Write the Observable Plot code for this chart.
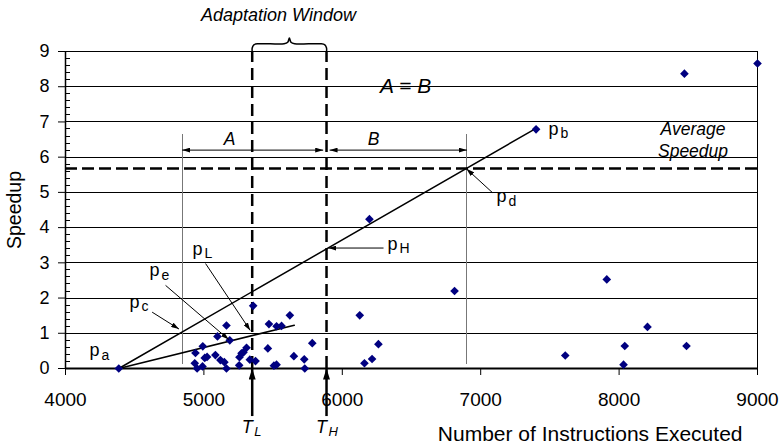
<!DOCTYPE html>
<html>
<head>
<meta charset="utf-8">
<script src="https://cdn.jsdelivr.net/npm/d3@7"></script>
<script src="https://cdn.jsdelivr.net/npm/@observablehq/plot@0.6"></script>
<style>
  body { margin: 0; background: #fff; }
  #chart svg { display: block; }
  g[aria-label^="x-axis"], g[aria-label^="x-axis"] text { font-size: 19px; }
  g[aria-label^="y-axis"], g[aria-label^="y-axis"] text { font-size: 18px; }
</style>
</head>
<body>
<div id="chart"></div>
<script>
// ---- axis ticks ----
const xTicks = [4000, 5000, 6000, 7000, 8000, 9000];
const yTicks = [0, 1, 2, 3, 4, 5, 6, 7, 8, 9];

// ---- measured samples (instructions executed, speedup) ----
const instructions = [4385, 4939, 4934, 4951, 4990, 4992, 5006, 5023, 5083, 5098, 5119, 5148, 5163, 5163, 5187,
  5255, 5257, 5272, 5286, 5308, 5332, 5356, 5373, 5462, 5470, 5506, 5525, 5525, 5561, 5621, 5650, 5725, 5729, 5783,
  6126, 6160, 6196, 6215, 6261, 6811, 7400, 7611, 7911, 8032, 8041, 8205, 8472, 8487, 9000];
const speedup = [0, 0.44, 0.15, 0, 0.06, 0.63, 0.30, 0.33, 0.38, 0.91, 0.24, 0.18, 1.22, 0, 0.80,
  0.09, 0.32, 0.43, 0.46, 0.59, 0.25, 1.78, 0.21, 0.57, 1.26, 0.08, 0.11, 1.20, 1.21, 1.51, 0.35, 0.26, 0, 0.72,
  1.51, 0.15, 4.24, 0.27, 0.69, 2.20, 6.79, 0.37, 2.53, 0.11, 0.64, 1.18, 8.37, 0.64, 8.66];

// ---- construction values ----
const pA = [4385, 0];
const pB = [7400, 6.82];
const lowLineEnd = [5653, 1.23];
const TL = 5349, TH = 5886;
const avgSpeedup = 5.68;
const refLeft = 4843, refRight = 6900;
const refTop = 6.64, refBottom = 0.11;
const spanY = 6.2;
const spans = [{name: "A", x1: refLeft, x2: 5862}, {name: "B", x1: 5908, x2: refRight}];
const spanLabels = [{text: "A", x: 5185, y: 6.51}, {text: "B", x: 6226, y: 6.51}];

// labels of points on the construction lines
const boxedP = [
  {sub: "c", x: 4462, y: 1.88},
  {sub: "e", x: 4607, y: 2.78},
  {sub: "L", x: 4918, y: 3.39},
  {sub: "H", x: 6327, y: 3.53},
  {sub: "d", x: 7114, y: 4.88}
];
const plainP = [
  {sub: "a", x: 4173, y: 0.505},
  {sub: "b", x: 7490, y: 6.80}
];
const pointers = [
  {x1: 4626, y1: 1.60, x2: 4820, y2: 1.12},
  {x1: 4723, y1: 2.36, x2: 5180, y2: 0.82},
  {x1: 5012, y1: 2.98, x2: 5335, y2: 1.08},
  {x1: 6298, y1: 3.42, x2: 5900, y2: 3.42},
  {x1: 7083, y1: 5.00, x2: 6897, y2: 5.67}
];
const eqLabel = [{text: "A = B", x: 6457, y: 8}];
const avgLabel = [{text: "Average\nSpeedup", x: 8534, y: 6.52}];
const thresholds = [{x: TL, sub: "L"}, {x: TH, sub: "H"}];
const axisTitles = [
  {text: "Speedup", x: 4000, y: 4.5},
  {text: "Number of Instructions Executed", x: 9000, y: 0}
];
const mid = (TL + TH) / 2;
const brace = [[TL, 9], [TL, 9.1], [TL + 12, 9.19], [TL + 45, 9.22], [mid - 38, 9.22], [mid - 12, 9.26], [mid, 9.38],
  [mid + 12, 9.26], [mid + 38, 9.22], [TH - 45, 9.22], [TH - 12, 9.19], [TH, 9.1], [TH, 9]];

const points = instructions.map((x, i) => ({x, y: speedup[i]}));
const minorY = d3.range(0, 45).map(i => i / 5).filter(v => !Number.isInteger(v) && v < 9);

const FONT = "'Liberation Sans', Arial, Helvetica, sans-serif";

function head(len, wid) {
  return () => {
    const ns = "http://www.w3.org/2000/svg";
    const m = document.createElementNS(ns, "marker");
    m.setAttribute("viewBox", `${-len} ${-wid / 2} ${len} ${wid}`);
    m.setAttribute("markerWidth", len);
    m.setAttribute("markerHeight", wid);
    m.setAttribute("markerUnits", "userSpaceOnUse");
    m.setAttribute("orient", "auto-start-reverse");
    m.setAttribute("refX", 0);
    m.setAttribute("refY", 0);
    m.setAttribute("fill", "black");
    m.setAttribute("stroke", "none");
    const p = document.createElementNS(ns, "path");
    p.setAttribute("d", `M0,0L${-len},${-wid / 2}L${-len},${wid / 2}Z`);
    m.appendChild(p);
    return m;
  };
}

const crisp = {shapeRendering: "crispEdges"};

const chart = Plot.plot({
  width: 784,
  height: 446,
  marginLeft: 65,
  marginRight: 27,
  marginTop: 51,
  marginBottom: 78,
  style: {fontFamily: FONT, fontSize: "18px", color: "black", background: "white"},
  x: {domain: [4000, 9000], ticks: xTicks, tickFormat: d => String(d), tickSize: 7, tickPadding: 17, label: null},
  y: {domain: [0, 9], ticks: yTicks, tickSize: 7, tickPadding: 9, label: null},
  marks: [
    Plot.ruleY(yTicks.filter(v => v > 0), {stroke: "black", strokeWidth: 1, ...crisp}),
    Plot.ruleY(minorY, {x1: 4000, x2: 4038, stroke: "black", strokeWidth: 1, ...crisp}),
    // boxed labels (white boxes inserted behind them)
    Plot.text(boxedP, {x: "x", y: "y", text: () => "p", textAnchor: "start", fontSize: 18, ariaLabel: "boxed"}),
    Plot.text(boxedP, {x: "x", y: "y", text: "sub", textAnchor: "start", fontSize: 14, dx: 12, dy: 4.5, ariaLabel: "boxed"}),
    Plot.text(eqLabel, {x: "x", y: "y", text: "text", fontSize: 21, fontStyle: "italic", ariaLabel: "boxed"}),
    Plot.text(avgLabel, {x: "x", y: "y", text: "text", fontSize: 17.5, lineHeight: 1.3, fontStyle: "italic", ariaLabel: "boxed"}),
    // reference verticals
    Plot.ruleX([refLeft, refRight], {y1: refBottom, y2: refTop, stroke: "#777", strokeWidth: 1, ...crisp}),
    // dashed lines
    Plot.ruleY([avgSpeedup], {x1: 4000, x2: 9030, stroke: "black", strokeWidth: 2.5, strokeDasharray: "12,5"}),
    Plot.ruleX([TL, TH], {y1: 0, y2: 9, stroke: "black", strokeWidth: 2.5, strokeDasharray: "12,6"}),
    // construction lines
    Plot.line([pA, pB], {x: d => d[0], y: d => d[1], stroke: "black", strokeWidth: 1.5}),
    Plot.line([pA, lowLineEnd], {x: d => d[0], y: d => d[1], stroke: "black", strokeWidth: 1.5}),
    // frame / axes
    Plot.ruleX([4000], {stroke: "black", strokeWidth: 1.5}),
    Plot.ruleX([9000], {stroke: "black", strokeWidth: 1, ...crisp}),
    Plot.ruleY([0], {stroke: "black", strokeWidth: 2}),
    // data
    Plot.dot(points, {x: "x", y: "y", symbol: "diamond2", r: 3.9, fill: "#000080", stroke: "none"}),
    // arrows
    Plot.link(pointers, {x1: "x1", y1: "y1", x2: "x2", y2: "y2", stroke: "black", strokeWidth: 1, markerEnd: head(8, 5)}),
    Plot.link(spans, {x1: "x1", x2: "x2", y1: () => spanY, y2: () => spanY, stroke: "black", strokeWidth: 1,
      markerStart: head(8, 5), markerEnd: head(8, 5)}),
    Plot.link(thresholds, {x1: "x", x2: "x", y1: () => -1.35, y2: () => 0, stroke: "black", strokeWidth: 2.5, markerEnd: head(11, 7)}),
    // brace
    Plot.line(brace, {x: d => d[0], y: d => d[1], curve: "catmull-rom", stroke: "black", strokeWidth: 1.5}),
    // plain labels
    Plot.text(plainP, {x: "x", y: "y", text: () => "p", textAnchor: "start", fontSize: 18}),
    Plot.text(plainP, {x: "x", y: "y", text: "sub", textAnchor: "start", fontSize: 14, dx: 12, dy: 4.5}),
    Plot.text(spanLabels, {x: "x", y: "y", text: "text", fontSize: 17.5, fontStyle: "italic"}),
    Plot.text(thresholds, {x: "x", y: () => 0, text: () => "T", dx: -5, dy: 59, fontSize: 18, fontStyle: "italic"}),
    Plot.text(thresholds, {x: "x", y: () => 0, text: "sub", textAnchor: "start", dx: 2, dy: 63, fontSize: 13, fontStyle: "italic"}),
    Plot.text(["Adaptation Window"], {x: () => 5539, y: () => 9, dy: -36.5, fontSize: 18, fontStyle: "italic"}),
    Plot.text(axisTitles.slice(1), {x: "x", y: "y", text: "text", textAnchor: "end", dx: -15, dy: 66, fontSize: 21}),
    Plot.text(axisTitles.slice(0, 1), {x: "x", y: "y", text: "text", rotate: -90, dx: -50.5, fontSize: 19.5})
  ]
});

document.getElementById("chart").append(chart);

// white boxes behind boxed labels
(function () {
  const ns = "http://www.w3.org/2000/svg";
  const groups = chart.querySelectorAll('g[aria-label="boxed"]');
  if (!groups.length) return;
  const svgRect = chart.getBoundingClientRect();
  const boxes = document.createElementNS(ns, "g");
  groups[0].parentNode.insertBefore(boxes, groups[0]);
  groups.forEach(g => g.querySelectorAll("text").forEach(t => {
    const r = t.getBoundingClientRect();
    const rect = document.createElementNS(ns, "rect");
    rect.setAttribute("x", r.left - svgRect.left - 5);
    rect.setAttribute("y", r.top - svgRect.top - 1);
    rect.setAttribute("width", r.width + 15);
    rect.setAttribute("height", r.height + 2);
    rect.setAttribute("fill", "white");
    boxes.appendChild(rect);
  }));
})();
</script>
</body>
</html>
